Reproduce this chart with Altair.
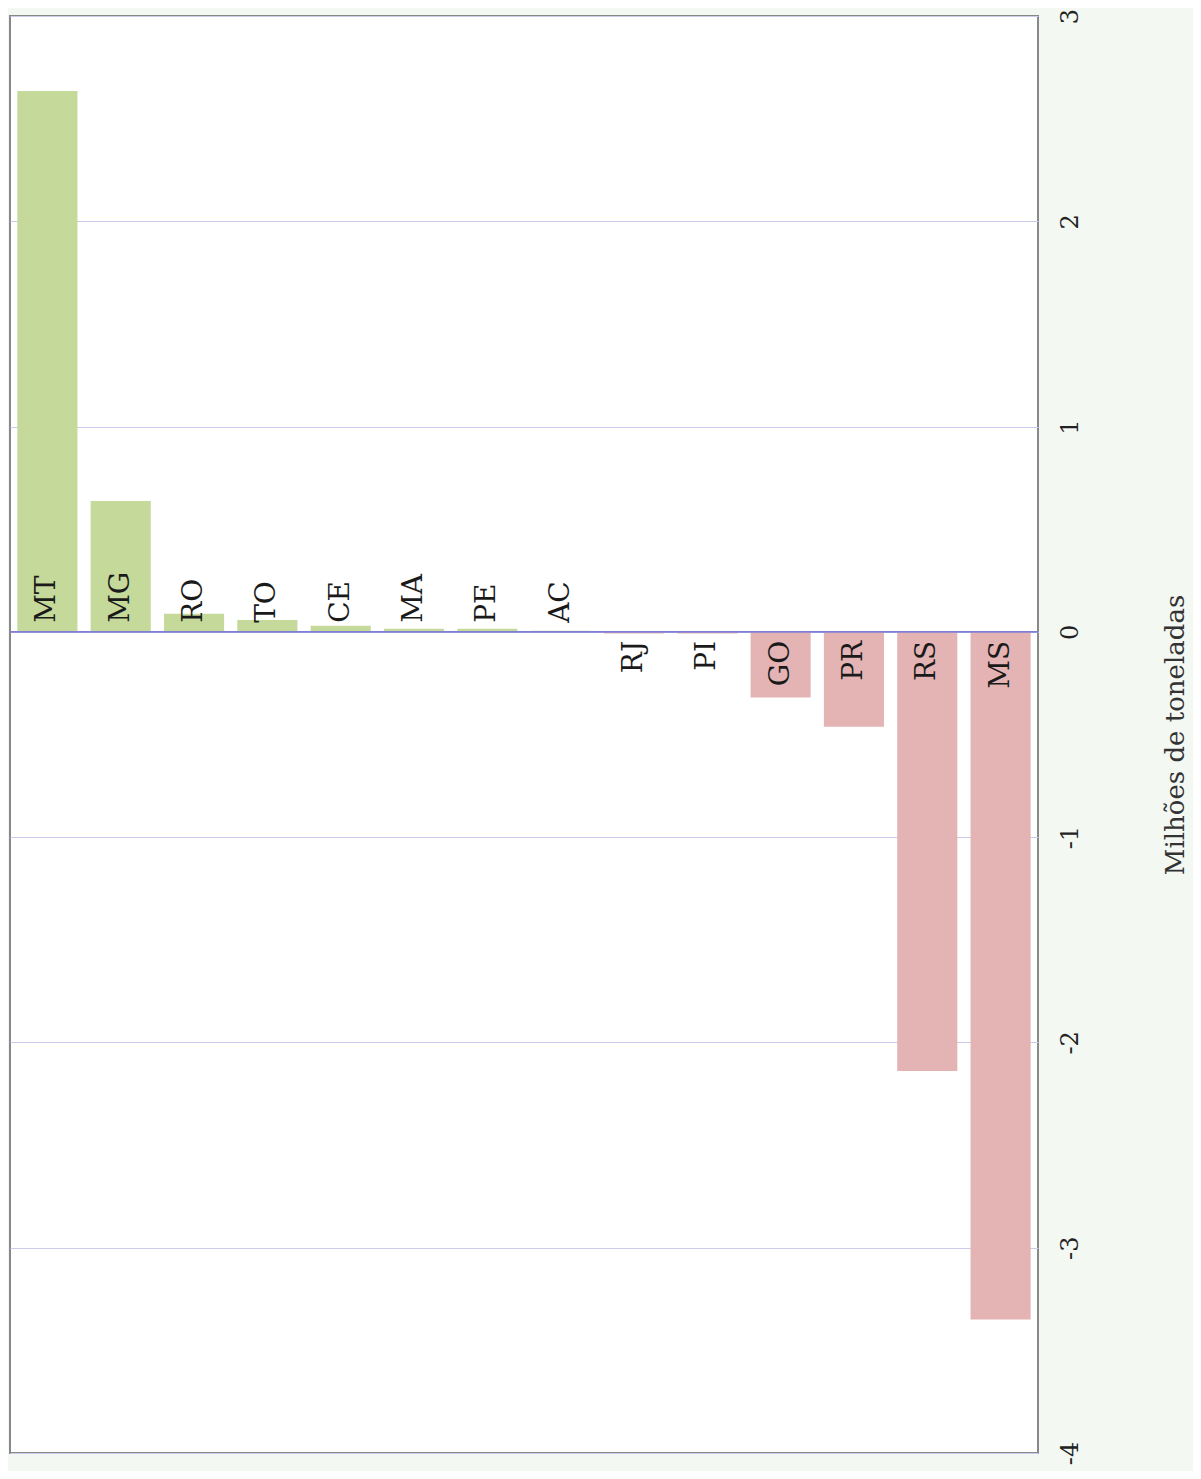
import altair as alt
import pandas as pd

states = ["MT", "MG", "RO", "TO", "CE", "MA", "PE", "AC", "RJ", "PI", "GO", "PR", "RS", "MS"]
values = [2.635, 0.637, 0.088, 0.058, 0.030, 0.015, 0.015, 0.005, -0.008, -0.008, -0.32, -0.462, -2.139, -3.35]
ticks = [-4, -3, -2, -1, 0, 1, 2, 3]

df = pd.DataFrame({"estado": states, "valor": values})
df["sinal"] = ["pos" if v >= 0 else "neg" for v in values]

FONT = "DejaVu Serif"

x = alt.X("estado:N", sort=None, axis=None,
          scale=alt.Scale(paddingInner=0.18, paddingOuter=0.1))
y_scale = alt.Scale(domain=[-4, 3], nice=False, zero=False)

bars = alt.Chart(df).mark_bar().encode(
    x=x,
    y=alt.Y("valor:Q", scale=y_scale,
            axis=alt.Axis(orient="right", title="Milhões de toneladas",
                          values=ticks, domain=False, ticks=False,
                          grid=True, gridColor="#cbcbee", gridWidth=1,
                          labelExpr="'' + datum.value",
                          labelAngle=270, labelAlign="center", labelBaseline="top",
                          labelPadding=20, labelFontSize=24, labelFont=FONT,
                          labelColor="#222", labelOverlap=False, labelFlush=False,
                          titleAngle=270, titleFontSize=26, titleFont=FONT,
                          titleFontWeight="normal", titleColor="#333",
                          titlePadding=106)),
    color=alt.Color("sinal:N", scale=alt.Scale(domain=["pos", "neg"],
                                               range=["#c5d99b", "#e4b4b4"]),
                    legend=None),
)

zero = alt.Chart(pd.DataFrame({"z": [0]})).mark_rule(color="#7f7fd6", strokeWidth=1.8).encode(
    y=alt.Y("z:Q", scale=y_scale)
)

pos_labels = alt.Chart(df).transform_filter("datum.valor >= 0").transform_calculate(zero="0").mark_text(
    angle=270, align="left", baseline="middle", dx=9, font=FONT, fontSize=28, color="#1a1a1a"
).encode(x=x, y=alt.Y("zero:Q", scale=y_scale), text="estado:N")

neg_labels = alt.Chart(df).transform_filter("datum.valor < 0").transform_calculate(zero="0").mark_text(
    angle=270, align="right", baseline="middle", dx=-9, font=FONT, fontSize=28, color="#1a1a1a"
).encode(x=x, y=alt.Y("zero:Q", scale=y_scale), text="estado:N")

chart = alt.layer(bars, zero, pos_labels, neg_labels).properties(
    width=1028, height=1437,
    background="#f3f8f3",
    autosize=alt.AutoSizeParams(type="none"),
    padding={"left": 2, "top": 8, "right": 155, "bottom": 18},
).configure_view(fill="white", stroke="#888888", strokeWidth=2)

chart.save("out.html", embed_options={"renderer": "svg", "actions": False})
